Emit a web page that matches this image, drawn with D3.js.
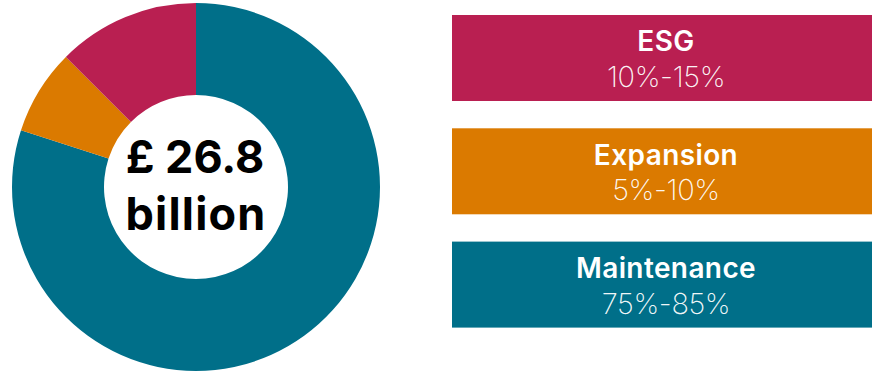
<!DOCTYPE html>
<html>
<head>
<meta charset="utf-8">
<script src="https://cdn.jsdelivr.net/npm/d3@7"></script>
<style>
  html, body { margin: 0; padding: 0; background: #fff; }
  svg { display: block; }
</style>
</head>
<body>
<svg id="chart" width="872" height="372"></svg>
<script>
// Spending split by category (share midpoints drive the donut)
const categories = ["ESG", "Expansion", "Maintenance"];
const rangeLabels = ["10%-15%", "5%-10%", "75%-85%"];
const shares = [12.5, 7.5, 80];
const palette = ["#b91f51", "#db7a00", "#006f89"];
const totalLabel = ["£ 26.8", "billion"];

const svg = d3.select("#chart");
const FONT = "Inter, Roboto, 'Noto Sans', sans-serif";

// Donut: drawn clockwise from 12 o'clock, Maintenance first
const cx = 196, cy = 187, outerR = 184, innerR = 92;
const drawOrder = [2, 1, 0];
const pie = d3.pie().sort(null).value(i => shares[i]);
const arc = d3.arc().innerRadius(innerR).outerRadius(outerR);
const color = d3.scaleOrdinal().domain(categories).range(palette);

const g = svg.append("g").attr("transform", `translate(${cx},${cy})`);
g.selectAll("path.slice")
  .data(pie(drawOrder))
  .join("path")
  .attr("class", "slice")
  .attr("d", arc)
  .attr("fill", d => color(categories[d.data]));

// Total in the hole
g.selectAll("text.total")
  .data(totalLabel)
  .join("text")
  .attr("class", "total")
  .attr("text-anchor", "middle")
  .attr("x", (d, i) => i === 0 ? -1 : 0)
  .attr("y", (d, i) => i === 0 ? -14 : 43)
  .attr("font-family", FONT)
  .attr("font-weight", 700)
  .attr("font-size", 45)
  .attr("letter-spacing", (d, i) => i === 0 ? 0 : 1.2)
  .attr("fill", "#000")
  .text(d => d);

// Legend boxes
const y = d3.scaleBand().domain(categories).range([15, 327.6]).paddingInner(0.241).paddingOuter(0);
const boxX = 452, boxW = 440, textX = 666;

const boxes = svg.selectAll("g.box")
  .data(categories)
  .join("g")
  .attr("class", "box")
  .attr("transform", d => `translate(0,${y(d)})`);

boxes.append("rect")
  .attr("x", boxX)
  .attr("width", boxW)
  .attr("height", y.bandwidth())
  .attr("fill", d => color(d));

boxes.append("text")
  .attr("x", textX)
  .attr("y", y.bandwidth() / 2 - 6.5)
  .attr("text-anchor", "middle")
  .attr("font-family", FONT)
  .attr("font-weight", 600)
  .attr("font-size", 28)
  .attr("letter-spacing", 0.4)
  .attr("fill", "#fff")
  .text(d => d);

boxes.append("text")
  .attr("x", textX)
  .attr("y", y.bandwidth() / 2 + 29)
  .attr("text-anchor", "middle")
  .attr("font-family", FONT)
  .attr("font-weight", 200)
  .attr("font-size", 29)
  .attr("letter-spacing", -0.4)
  .attr("fill", "#fff")
  .attr("fill-opacity", 0.95)
  .text((d, i) => rangeLabels[i]);
</script>
</body>
</html>
